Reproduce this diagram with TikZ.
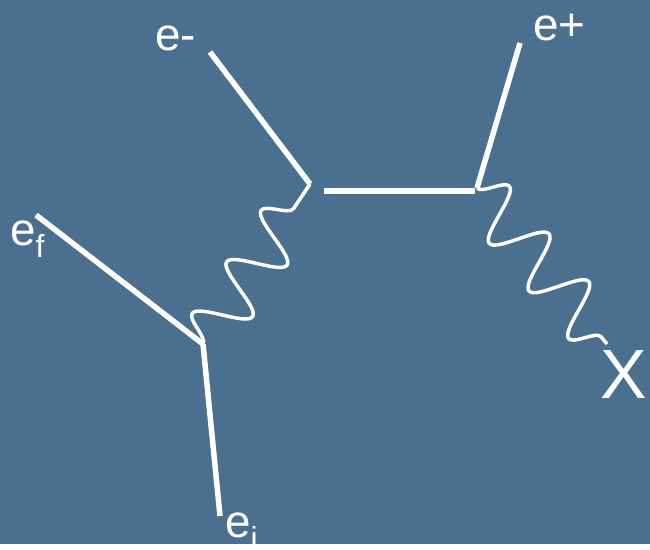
\documentclass[tikz,border=0pt]{standalone}
\usepackage{fontspec}
\setmainfont{Liberation Sans}
\usetikzlibrary{decorations.pathmorphing}
\definecolor{slateBg}{HTML}{4A6F8F}
\newcommand{\subtxt}[1]{\raisebox{-0.27em}{\fontsize{32}{34}\selectfont #1}}

\begin{document}
\begin{tikzpicture}[x=1bp,y=-1bp,
    fermion/.style={white, line width=5.5bp},
    photon/.style={white, line width=3.5bp, line join=round, decorate,
                   decoration={snake, amplitude=26bp, segment length=62bp}},
    lbl/.style={white, inner sep=0pt, anchor=base west,
                font=\fontsize{46}{50}\selectfont}
]

% -- background
\fill[slateBg] (0,0) rectangle (650,544);

% -- vertices
\coordinate (vA) at (203,344);
\coordinate (vB) at (310,184);
\coordinate (vC) at (477,188);

% -- free ends
\coordinate (eiEnd) at (220,516);
\coordinate (efEnd) at (36,215);
\coordinate (emEnd) at (210,52);
\coordinate (epEnd) at (520,43);
\coordinate (xEnd) at (607,344);
\coordinate (hStart) at (324,191);
\coordinate (hStop) at (475,191);

% -- fermion lines
\draw[fermion] (eiEnd) -- (vA);
\draw[fermion] (efEnd) -- (vA);
\draw[fermion] (emEnd) -- (vB);
\draw[fermion] (hStart) -- (hStop);
\draw[fermion] (epEnd) -- (vC);

% -- photon lines
\draw[photon] (vA) -- (vB);
\draw[photon] (vC) -- (xEnd);

% -- labels
\node[lbl] (lblEm) at (155,50) {e-};
\node[lbl] (lblEp) at (533,40) {e+};
\node[lbl] (lblEf) at (10,245) {e\subtxt{f}};
\node[lbl] (lblEi) at (225,537) {e\subtxt{i}};
\node[lbl, font=\fontsize{70}{74}\selectfont] (lblX) at (600,398) {X};

\end{tikzpicture}
\end{document}
